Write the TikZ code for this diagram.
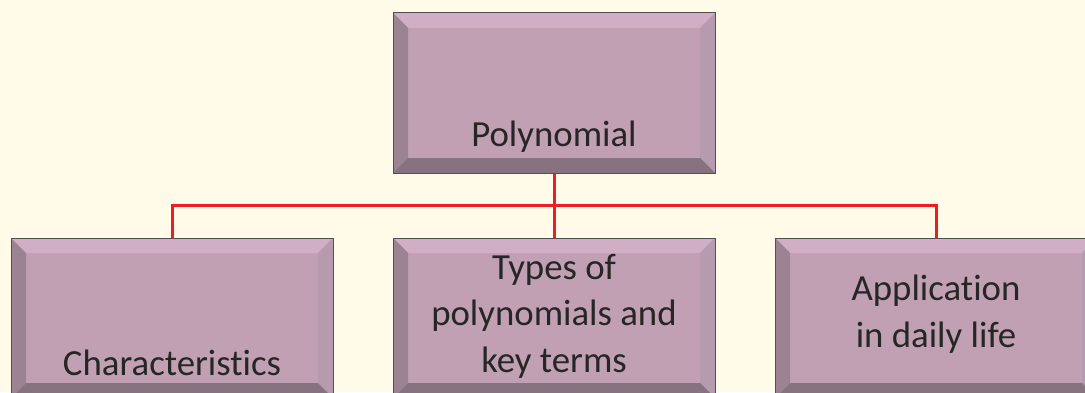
\documentclass[tikz,border=0pt]{standalone}
\usepackage{fontspec}
\setmainfont{Carlito}[Ligatures=NoCommon]
\usetikzlibrary{trees}
\definecolor{paper}{HTML}{FFFBE8}
\definecolor{boxface}{HTML}{C1A0B4}
\definecolor{bevtop}{HTML}{D1AEC5}
\definecolor{bevleft}{HTML}{9C8393}
\definecolor{bevright}{HTML}{B59BAD}
\definecolor{bevbottom}{HTML}{87727F}
\definecolor{forkred}{HTML}{EE1C25}
\definecolor{inkgray}{HTML}{262626}
\def\bev{7.5pt}
\tikzset{
  bevelbox/.style={draw=inkgray!80, line width=0.5pt, fill=boxface,
    minimum width=161pt, minimum height=80pt, inner sep=0pt,
    path picture={
      \coordinate (nw) at (path picture bounding box.north west);
      \coordinate (ne) at (path picture bounding box.north east);
      \coordinate (sw) at (path picture bounding box.south west);
      \coordinate (se) at (path picture bounding box.south east);
      \fill[bevtop] (nw) -- (ne) -- ([shift={(-\bev,-\bev)}]ne) -- ([shift={(\bev,-\bev)}]nw) -- cycle;
      \fill[bevleft] (nw) -- (sw) -- ([shift={(\bev,\bev)}]sw) -- ([shift={(\bev,-\bev)}]nw) -- cycle;
      \fill[bevright] (ne) -- (se) -- ([shift={(-\bev,\bev)}]se) -- ([shift={(-\bev,-\bev)}]ne) -- cycle;
      \fill[bevbottom] (sw) -- (se) -- ([shift={(-\bev,\bev)}]se) -- ([shift={(\bev,\bev)}]sw) -- cycle;
    }},
  boxtext/.style={font=\fontsize{18.4}{23.3}\selectfont, text=inkgray, align=center, inner sep=0pt}
}
\begin{document}
\begin{tikzpicture}[x=0.5pt,y=0.5pt,level distance=112.5pt,
  level 1/.style={sibling distance=191pt},
  edge from parent/.style={draw=forkred,line width=1.5pt},
  edge from parent fork down
  ]
    \path[use as bounding box, fill=paper] (0,0) rectangle (1085,392);
    \clip (0,0) rectangle (1085,392);

    \node[bevelbox] (poly) at (554,299) {}
        child { node[bevelbox] (chr) {} }
        child { node[bevelbox] (types) {} }
        child { node[bevelbox] (app) {} }
        ;

    % text sits on the base of its last line
    \node[boxtext, anchor=base] (polytxt) at ([yshift=13.5pt]poly.south) {Polynomial};
    \node[boxtext, anchor=base] (chrtxt) at ([yshift=11.5pt]chr.south) {Characteristics};
    \node[boxtext, anchor=base] (typestxt) at ([yshift=13pt]types.south) {Types of\\polynomials and\\key terms};
    \node[boxtext, anchor=base] (apptxt) at ([yshift=25.5pt]app.south) {Application\\in daily life};
\end{tikzpicture}
\end{document}
